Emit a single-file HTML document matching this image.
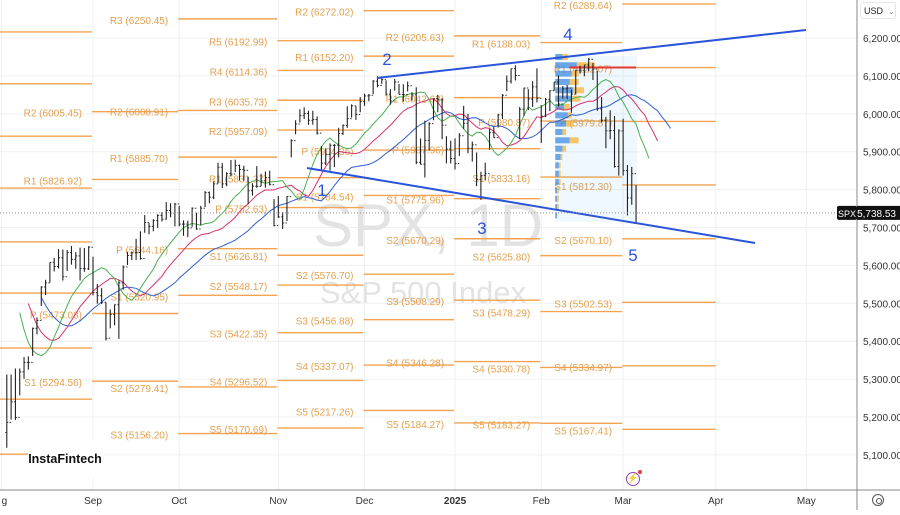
<!DOCTYPE html>
<html><head><meta charset="utf-8">
<style>
html,body{margin:0;padding:0;background:#fff;}
body{width:900px;height:510px;overflow:hidden;font-family:"Liberation Sans",sans-serif;}
svg text{font-family:"Liberation Sans",sans-serif;}
</style></head>
<body>
<svg id="chart" width="900" height="510" viewBox="0 0 900 510" xmlns="http://www.w3.org/2000/svg">
  <rect x="0" y="0" width="900" height="510" fill="#ffffff"/>
  <g id="grid"></g>
  <g id="watermark">
    <text x="428" y="246" font-size="60" fill="#e3e3e3" text-anchor="middle">SPX, 1D</text>
    <text x="423" y="303" font-size="31" fill="#e3e3e3" text-anchor="middle">S&amp;P 500 Index</text>
  </g>
  <g id="pivots"></g>
  <g id="profile"></g>
  <g id="mas"></g>
  <g id="bars"></g>
  <g id="trend"></g>
  <g id="axes"></g>
</svg>
<script>
// ---- data ----
const months = ["g","Sep","Oct","Nov","Dec","2025","Feb","Mar","Apr","May"];
const monthStartIdx = [-1.2,20,40,63,83,104,124,143,164.5,185.5];
const priceTicks = [6200,6100,6000,5900,5800,5700,5600,5500,5400,5300,5200,5100];
const highs = [5312,5312,5328,5328,5358,5360,5436,5463,5545,5562,5608,5620,5643,5642,5641,5651,5635,5647,5646,5651,
5623,5551,5540,5502,5484,5497,5560,5600,5636,5637,5670,5690,5733,5712,5722,5735,5741,5767,5764,5765,
5757,5719,5718,5753,5739,5757,5796,5795,5822,5871,5870,5846,5878,5879,5866,5863,5834,5817,5862,5842,5848,5850,5775,
5783,5741,5783,5933,5983,6012,6017,6008,6008,5993,5915,5909,5922,5920,5963,5972,6020,6025,6020,6044,
6053,6052,6089,6099,6099,6088,6065,6092,6079,6078,6085,6057,6070,5935,5982,5978,6040,6050,6041,5941,5929,
5935,5949,6021,6000,5927,5898,5847,5871,5960,5965,6000,6052,6101,6119,6128,6018,6069,6065,6086,6120,
6023,6042,6062,6084,6101,6073,6076,6064,6116,6127,6129,6147,6134,6114,6044,5992,6009,5994,5959,
5987,5865,5860,5812];
const lows = [5119,5193,5192,5257,5301,5325,5361,5418,5493,5522,5555,5584,5592,5560,5585,5602,5591,5560,5583,5588,
5521,5499,5498,5402,5434,5442,5406,5536,5601,5614,5614,5615,5686,5682,5690,5699,5716,5721,5727,5703,
5703,5678,5675,5702,5694,5706,5754,5764,5775,5816,5804,5809,5835,5846,5824,5823,5762,5784,5805,5809,5805,5811,5703,
5725,5696,5717,5885,5946,5977,5986,5971,5971,5945,5853,5865,5850,5860,5885,5944,5963,5990,5984,6004,
6021,6033,6052,6070,6079,6048,6024,6061,6051,6032,6059,6035,5867,5866,5832,5903,5983,6004,5933,5869,5869,
5853,5889,5960,5896,5874,5809,5773,5824,5905,5937,5964,5986,6060,6080,6088,5933,5994,6010,6018,6030,
5923,5991,6007,6061,6019,6040,6039,6003,6051,6106,6099,6112,6089,6008,5977,5909,5933,5858,5837,
5837,5732,5760,5712];
const closes = [5186,5240,5199,5319,5344,5344,5434,5455,5543,5554,5608,5597,5620,5570,5634,5616,5625,5592,5591,5648,
5528,5520,5503,5408,5471,5496,5554,5596,5626,5633,5634,5618,5713,5703,5718,5732,5722,5745,5738,5762,
5709,5709,5699,5751,5696,5751,5792,5780,5815,5859,5815,5842,5841,5864,5853,5851,5797,5809,5808,5823,5832,5813,5705,
5728,5712,5782,5929,5973,5995,6001,5983,5985,5949,5870,5893,5917,5917,5948,5969,5987,6021,5998,6032,
6047,6049,6086,6075,6090,6052,6034,6084,6051,6051,6074,6050,5872,5867,5930,5974,6040,6037,5970,5907,5882,
5869,5942,5975,5909,5918,5827,5837,5842,5950,5937,5997,6049,6086,6119,6101,6012,6068,6039,6071,6041,
5994,6038,6061,6084,6026,6066,6068,6052,6115,6115,6129,6144,6118,6013,5983,5955,5956,5861,5955,
5850,5778,5842,5738.53];
const alligatorSeed = 5540;
// pivot segments
const segStart = [-1.6,20,40,63,83,104,124,143];
const segEndLast = 164.5;
const segNames = [
 ["R4","R3","R2","R1","P","S1","S2","S3","S4"],
 ["R2","R1","P","S1"],
 ["R3","R2","R1","P","S1","S2","S3"],
 ["R5","R4","R3","R2","R1","P","S1","S2","S3","S4","S5"],
 ["R2","R1","P","S1","S2","S3","S4","S5"],
 ["R3","R2","R1","P","S1","S2","S3","S4","S5"],
 ["R1","P","S1","S2","S3","S4","S5"],
 ["R2","R1","P","S1","S2","S3","S4","S5"]];
const segValues = [
 [6216.00,6079.00,5941.00,5804.00,5662.00,5527.00,5382.00,5247.00,5102.00],
 [6005.45,5826.92,5473.08,5294.56],
 [6250.45,6008.91,5885.70,5644.16,5520.95,5279.41,5156.20],
 [6192.99,6114.36,6035.73,5957.09,5831.37,5752.63,5626.81,5548.17,5422.35,5296.52,5170.69],
 [6272.02,6152.20,5904.36,5784.54,5576.70,5456.88,5337.07,5217.26],
 [6371.93,6205.63,6042.68,5907.96,5775.96,5670.29,5508.29,5346.28,5184.27],
 [6188.03,5980.87,5833.16,5625.80,5478.29,5330.78,5183.27],
 [6289.64,6122.07,5979.87,5812.30,5670.10,5502.53,5334.97,5167.41]];
// volume profile (rows from top price down)
const vpTop = 6150, vpStep = 22;
const vpBuy  = [4,12,9,8,10,9,5,7,6,4,8,4,3,2,2,2,1,1,1,1];
const vpSell = [3,10,4,5,6,5,3,2,4,2,5,2,1,1,1,1,1,1,1,0];
const lastPrice = 5738.53;

// ---- scales ----
const NS="http://www.w3.org/2000/svg";
function X(i){return 6.8+i*4.31;}
function Y(p){return 38+(6200-p)*0.379;}
function el(tag,attrs,parent){const e=document.createElementNS(NS,tag);for(const k in attrs)e.setAttribute(k,attrs[k]);parent.appendChild(e);return e;}
const fmt=v=>v.toFixed(2).replace(/\B(?=(\d{3})+(?!\d))/g,",");

// grid
const grid=document.getElementById('grid');
priceTicks.forEach(p=>{const l=el('line',{x1:0,x2:857,y1:Y(p),y2:Y(p),stroke:'#f0f0f0','stroke-width':1},grid);

});
monthStartIdx.forEach(i=>{const l=el('line',{x1:X(i),x2:X(i),y1:0,y2:490,stroke:'#f0f0f0','stroke-width':1},grid);

});

// pivots
const pv=document.getElementById('pivots');
segValues.forEach((vals,s)=>{
  const x1=X(segStart[s])-1, x2=s<segStart.length-1?X(segStart[s+1])-1:X(segEndLast);
  vals.forEach((v,k)=>{
    const y=Y(v);
    const l=el('line',{x1:x1,x2:x2,y1:y,y2:y,stroke:'#f3a352','stroke-width':1.4},pv);
    
    
    const t=el('text',{x:x1-10,y:y+5,'font-size':10,fill:'#e5a04e','text-anchor':'end'},pv);
    t.textContent=segNames[s][k]+' ('+v.toFixed(2)+')';
    
    
  });
});

// volume profile
const vp=document.getElementById('profile');
const vpx=X(124)+14;
const bg=el('rect',{x:vpx,y:Y(6152),width:X(146)-vpx+1,height:Y(5715)-Y(6152),fill:'#2196f3','fill-opacity':0.07},vp);


vpBuy.forEach((b,r)=>{
  const y=Y(vpTop-r*vpStep)-3;
  const rb=el('rect',{x:vpx,y:y,width:b*1.8,height:6,fill:'#3d8be0','fill-opacity':0.75},vp);
  
  
  const rs=el('rect',{x:vpx+b*1.8,y:y,width:vpSell[r]*1.8,height:6,fill:'#f5b43a','fill-opacity':0.75},vp);
  
  
});
const poc=el('line',{x1:vpx+14,x2:X(146),y1:Y(6122),y2:Y(6122),stroke:'#e53935','stroke-width':2},vp);



// alligator
const mas=document.getElementById('mas');
function smma(n){let v=alligatorSeed;const out=[];for(let i=0;i<highs.length;i++){const m=(highs[i]+lows[i])/2;v=(v*(n-1)+m)/n;out.push(v);}return out;}
[[13,8,'#2f5fd0','jaw'],[8,5,'#d6336c','teeth'],[5,3,'#4caf50','lips']].forEach(([n,sh,c,nm])=>{
  const s=smma(n);const d=s.map((v,i)=>(i?'L':'M')+X(i+sh).toFixed(1)+','+Y(v).toFixed(1)).join('');
  const p=el('path',{d:d,fill:'none',stroke:c,'stroke-width':1},mas);
  
  
});

// bars
const bars=document.getElementById('bars');
closes.forEach((c,i)=>{
  const x=X(i);const g=el('g',{},bars);
  
  
  const o=i?closes[i-1]:lows[0]+40;
  el('line',{x1:x,x2:x,y1:Y(highs[i]),y2:Y(lows[i]),stroke:'#222','stroke-width':1.1},g);
  el('line',{x1:x-1.5,x2:x,y1:Y(o),y2:Y(o),stroke:'#222','stroke-width':0.9},g);
  el('line',{x1:x,x2:x+1.5,y1:Y(c),y2:Y(c),stroke:'#222','stroke-width':0.9},g);
});

// last price line
const ax=document.getElementById('axes');
const lp=el('line',{x1:0,x2:857,y1:Y(lastPrice),y2:Y(lastPrice),stroke:'#999','stroke-width':1,'stroke-dasharray':'1 2'},ax);



// trend lines
const tr=document.getElementById('trend');
[[377,78,806,30,'upper-trendline'],[307,168,755,243,'lower-trendline']].forEach(a=>{
  const l=el('line',{x1:a[0],y1:a[1],x2:a[2],y2:a[3],stroke:'#2b55d9','stroke-width':2},tr);
  
  
});
[["1",322,196],["2",387,65],["3",482,234],["4",568,40],["5",633,261]].forEach(a=>{
  const t=el('text',{x:a[1],y:a[2],'font-size':17,fill:'#2b55d9','text-anchor':'middle'},tr);
  t.textContent=a[0];
  
  
});

// axes
const bl=el('line',{x1:0,x2:900,y1:490,y2:490,stroke:'#888','stroke-width':1},ax);


const vl=el('line',{x1:857,x2:857,y1:0,y2:510,stroke:'#888','stroke-width':1},ax);


priceTicks.forEach(p=>{
  const t=el('text',{x:863,y:Y(p)+4,'font-size':10,fill:'#333'},ax);
  t.textContent=fmt(p);
  
  
});
months.forEach((m,k)=>{
  const t=el('text',{x:Math.max(X(monthStartIdx[k]),0),y:504,'font-size':10,fill:'#333','text-anchor':k===0?'start':'middle','font-weight':m==='2025'?'bold':'normal'},ax);
  t.textContent=m;
  
  
});
// price tag
const tg=el('g',{},ax);


el('rect',{x:837,y:Y(lastPrice)-7,width:20,height:14,fill:'#111',rx:2},tg);
el('text',{x:847,y:Y(lastPrice)+4,'font-size':9,fill:'#fff','text-anchor':'middle'},tg).textContent='SPX';
el('rect',{x:857,y:Y(lastPrice)-7,width:43,height:14,fill:'#111'},tg);
el('text',{x:896,y:Y(lastPrice)+4,'font-size':10,fill:'#fff','text-anchor':'end'},tg).textContent=fmt(lastPrice);
</script>
<div style="position:absolute;left:860px;top:2px;width:36px;height:17px;border:1px solid #e6e6e6;border-radius:3px;background:#fff;font-size:9px;line-height:17px;color:#222;padding-left:3px;box-sizing:border-box;">USD <span style="font-size:7px;color:#666;margin-left:3px;">&#8964;</span></div>
<div style="position:absolute;left:28px;top:440px;width:74px;height:38px;background:#fff;font-size:12.5px;font-weight:bold;color:#111;line-height:38px;text-align:center;">InstaFintech</div>
<div style="position:absolute;left:872px;top:494px;width:12px;height:12px;border:1.5px solid #555;border-radius:50%;box-sizing:border-box;"><div style="position:absolute;left:2.5px;top:2.5px;width:4px;height:4px;border:1.2px solid #555;border-radius:50%;"></div></div>
<div style="position:absolute;left:626px;top:472px;width:14px;height:14px;border:1.5px solid #8e44ad;border-radius:50%;box-sizing:border-box;color:#8e44ad;font-size:9px;line-height:11px;text-align:center;">&#9889;<div style="position:absolute;right:-3px;top:-3px;width:4px;height:4px;background:#e53935;border-radius:50%;"></div></div>
</body></html>
